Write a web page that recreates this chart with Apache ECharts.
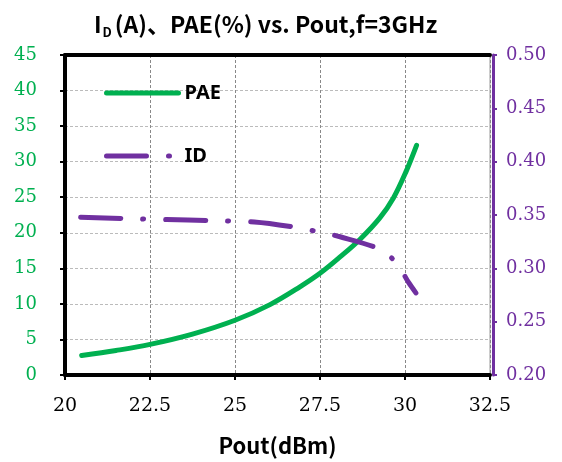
<!DOCTYPE html>
<html><head><meta charset="utf-8">
<script src="https://cdn.jsdelivr.net/npm/echarts@6/dist/echarts.min.js"></script>
<style>html,body{margin:0;padding:0;background:#fff}#c{width:562px;height:462px}</style>
</head><body><div id="c"></div>
<script>
// PAE (%) vs Pout (dBm)
const paePout = [20.49, 21.5, 22.5, 23.75, 25.0, 26.03, 26.91, 27.5, 28.09, 28.68, 29.26, 29.66, 30.03, 30.34];
const paeVals = [2.74, 3.45, 4.3, 5.75, 7.7, 9.9, 12.4, 14.3, 16.6, 19.1, 22.1, 24.9, 28.6, 32.3];
// ID (A) vs Pout (dBm)
const idPout = [20.46, 21.7, 22.99, 24.24, 25.57, 26.76, 27.42, 28.09, 29.26, 29.76, 30.1, 30.32];
const idVals = [0.348, 0.3467, 0.3457, 0.3447, 0.3435, 0.3386, 0.3345, 0.3296, 0.3179, 0.3046, 0.287, 0.277];
const seriesNames = ['PAE', 'ID'];
const titleMain = '(A)、PAE(%) vs. Pout,f=3GHz';
const xName = 'Pout(dBm)';

const GREEN = '#00b050', PURPLE = '#7030a0';
const dashPat = [40, 22, 1, 22];
const chart = echarts.init(document.getElementById('c'), null, {renderer: 'canvas'});
const labelFont = 'DejaVu Serif';
const legendCommon = {
  left: 104, padding: 0, itemWidth: 72, itemHeight: 10, itemGap: 0,
  itemStyle: {color: 'rgba(0,0,0,0)', borderWidth: 0, opacity: 0},
  textStyle: {fontFamily: 'Noto Sans', fontWeight: 'bold', fontSize: 20, color: '#000', padding: [0, 0, 0, 1]}
};
chart.setOption({
  animation: false,
  backgroundColor: '#fff',
  title: {
    text: '{a|I}{sub|D}{a|' + titleMain + '}',
    left: 89, top: 5,
    textStyle: {
      rich: {
        a: {fontFamily: 'Noto Sans CJK SC', fontWeight: 'bold', fontSize: 23, color: '#000'},
        sub: {fontFamily: 'Noto Sans CJK SC', fontWeight: 'bold', fontSize: 13, color: '#000', padding: [16, 3, 0, 1]}
      }
    }
  },
  legend: [
    Object.assign({data: [seriesNames[0]], top: 83,
      lineStyle: {width: 5, cap: 'round', color: GREEN}}, legendCommon),
    Object.assign({data: [seriesNames[1]], top: 146,
      lineStyle: {width: 5, cap: 'round', color: PURPLE, type: dashPat}}, legendCommon)
  ],
  grid: {left: 65, right: 72, top: 55, bottom: 83, show: true, borderColor: '#999', borderWidth: 1},
  xAxis: [{
    type: 'value', min: 20, max: 32.5, interval: 2.5,
    name: xName, nameLocation: 'middle', nameGap: 60,
    nameTextStyle: {fontFamily: 'Noto Sans CJK SC', fontWeight: 'bold', fontSize: 22, color: '#000'},
    axisLine: {lineStyle: {color: '#000', width: 4}},
    axisTick: {show: true, length: 5, lineStyle: {color: '#000', width: 2}},
    axisLabel: {fontFamily: labelFont, fontSize: 19, color: '#000', margin: 22},
    splitLine: {show: true, lineStyle: {color: '#888', type: [3, 2], width: 1}}
  }, {
    type: 'value', min: 20, max: 32.5, position: 'top',
    axisLine: {show: true, lineStyle: {color: '#000', width: 4}},
    axisTick: {show: false}, axisLabel: {show: false}, splitLine: {show: false}
  }],
  yAxis: [{
    type: 'value', min: 0, max: 45, interval: 5, position: 'left',
    axisLine: {show: true, lineStyle: {color: '#000', width: 4}},
    axisTick: {show: true, length: 5, lineStyle: {color: '#000', width: 2}},
    axisLabel: {fontFamily: labelFont, fontSize: 18, color: GREEN, margin: 28, padding: [6, 0, 0, 0]},
    splitLine: {show: true, lineStyle: {color: '#bbb', type: [3, 2], width: 1}}
  }, {
    type: 'value', min: 0.2, max: 0.5, interval: 0.05, position: 'right', offset: 3,
    axisLine: {show: true, lineStyle: {color: PURPLE, width: 3}},
    axisTick: {show: true, length: 4, lineStyle: {color: PURPLE, width: 2}},
    axisLabel: {fontFamily: labelFont, fontSize: 18, color: PURPLE, margin: 13, padding: [6, 0, 0, 0],
      formatter: v => v.toFixed(2)},
    splitLine: {show: false}
  }],
  series: [{
    name: seriesNames[0], type: 'line', xAxisIndex: 0, yAxisIndex: 0,
    data: paePout.map((x, i) => [x, paeVals[i]]),
    smooth: 0.35, symbol: 'none',
    lineStyle: {color: GREEN, width: 5, cap: 'round'}, itemStyle: {color: GREEN}
  }, {
    name: seriesNames[1], type: 'line', xAxisIndex: 0, yAxisIndex: 1,
    data: idPout.map((x, i) => [x, idVals[i]]),
    smooth: 0.3, symbol: 'none',
    lineStyle: {color: PURPLE, width: 5, cap: 'round', type: dashPat}, itemStyle: {color: PURPLE}
  }]
});
</script></body></html>
